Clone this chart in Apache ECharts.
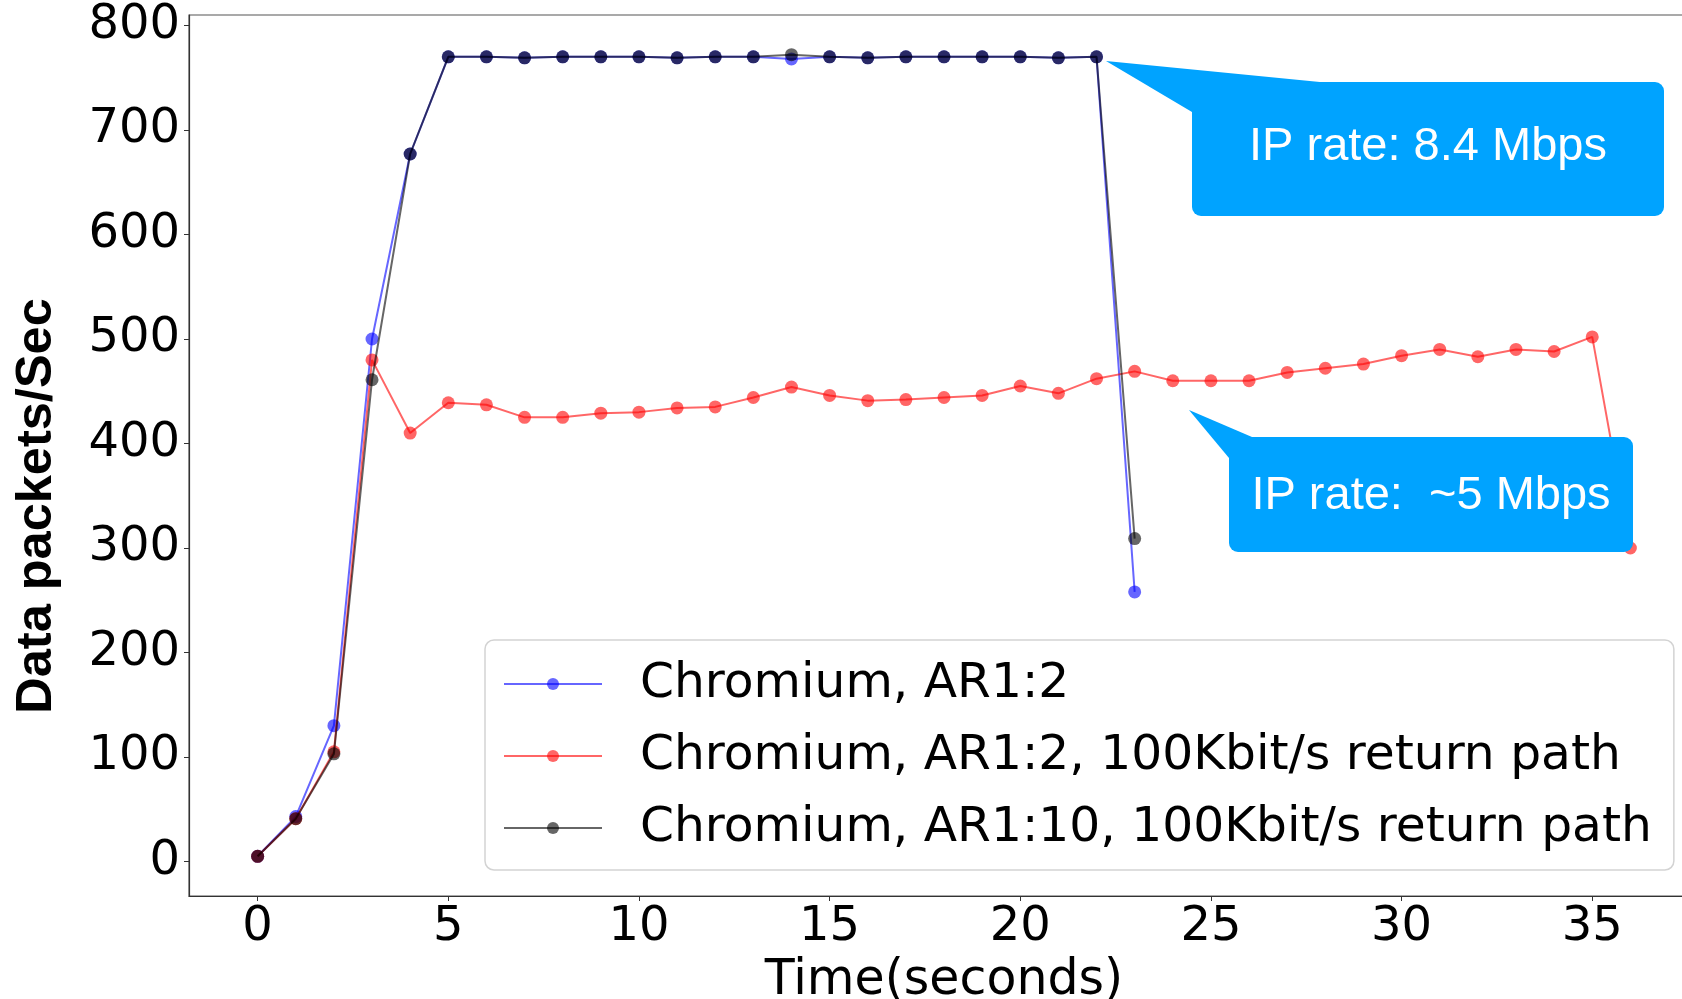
<!DOCTYPE html>
<html>
<head>
<meta charset="utf-8">
<script src="https://cdn.jsdelivr.net/npm/echarts@6/dist/echarts.min.js"></script>
<style>
html,body{margin:0;padding:0;background:#fff;}
#chart{width:1682px;height:999px;}
</style>
</head>
<body>
<div id="chart"></div>
<script>
// ---- data ----
const timeShort = [0,1,2,3,4,5,6,7,8,9,10,11,12,13,14,15,16,17,18,19,20,21,22,23];
const timeLong = [0,1,2,3,4,5,6,7,8,9,10,11,12,13,14,15,16,17,18,19,20,21,22,23,24,25,26,27,28,29,30,31,32,33,34,35,36];
const seriesNames = ['Chromium, AR1:2', 'Chromium, AR1:2, 100Kbit/s return path', 'Chromium, AR1:10, 100Kbit/s return path'];
const blueValues = [5, 43, 130, 500, 677, 770, 770, 769, 770, 770, 770, 769, 770, 770, 768, 770, 769, 770, 770, 770, 770, 769, 770, 258];
const redValues = [5, 41, 105, 480, 410, 439, 437, 425, 425, 429, 430, 434, 435, 444, 454, 446, 441, 442, 444, 446, 455, 448, 462, 469, 460, 460, 460, 468, 472, 476, 484, 490, 483, 490, 488, 502, 300];
const blackValues = [5, 41, 103, 461, 677, 770, 770, 769, 770, 770, 770, 769, 770, 770, 772, 770, 769, 770, 770, 770, 770, 769, 770, 309];
const xTicks = [0,5,10,15,20,25,30,35];
const yTicks = [0,100,200,300,400,500,600,700,800];
const xLabel = 'Time(seconds)';
const yLabel = 'Data packets/Sec';
const note1 = 'IP rate: 8.4 Mbps';
const note2 = 'IP rate:  ~5 Mbps';

function pairs(ts, vs){ return ts.map((t,i)=>[t, vs[i]]); }

const chart = echarts.init(document.getElementById('chart'), null, {renderer:'canvas'});
const tickFont = 'DejaVu Sans';
function mkSeries(name, color, ts, vs, z){
  return {
    name: name, type: 'line', data: pairs(ts, vs), z: z,
    symbol: 'circle', symbolSize: 13,
    lineStyle: {color: color, width: 2, opacity: 0.6},
    itemStyle: {color: color, opacity: 0.6},
    emphasis: {disabled: true},
    animation: false
  };
}
const calloutColor = '#00a3ff';
chart.setOption({
  animation: false,
  backgroundColor: '#ffffff',
  grid: {left: 189, top: 15, width: 1510, height: 881, show: true, borderColor: '#555', borderWidth: 1.2, containLabel: false, outerBoundsMode: 'none'},
  xAxis: {
    type: 'value', min: -1.8, max: 37.8,
    name: xLabel, nameLocation: 'middle', nameGap: 55,
    nameTextStyle: {fontFamily: tickFont, fontSize: 49, color: '#000'},
    axisLine: {show: true, onZero: false, lineStyle: {color: '#333', width: 1.2}},
    axisTick: {show: true, length: 5, lineStyle: {color: '#333'}, customValues: xTicks},
    axisLabel: {fontFamily: tickFont, fontSize: 48, color: '#000', margin: 8, customValues: xTicks},
    splitLine: {show: false}
  },
  yAxis: {
    type: 'value', min: -33, max: 810,
    axisLine: {show: true, onZero: false, lineStyle: {color: '#333', width: 1.2}},
    axisTick: {show: true, length: 5, lineStyle: {color: '#333'}, customValues: yTicks},
    axisLabel: {fontFamily: tickFont, fontSize: 48, color: '#000', margin: 9, padding: [8, 0, 0, 0], customValues: yTicks},
    splitLine: {show: false}
  },
  legend: {
    show: true, orient: 'vertical', left: 485, top: 640,
    data: seriesNames,
    itemWidth: 98, itemHeight: 15, itemGap: 16,
    padding: [16, 22, 14, 18],
    backgroundColor: 'rgba(255,255,255,0.8)', borderColor: '#d3d3d3', borderWidth: 1.5, borderRadius: 9,
    selectedMode: false,
    textStyle: {fontFamily: tickFont, fontSize: 48.7, color: '#000', lineHeight: 56, padding: [0, 0, 0, 33]}
  },
  series: [
    mkSeries(seriesNames[0], '#0000ff', timeShort, blueValues, 2),
    mkSeries(seriesNames[1], '#ff0000', timeLong, redValues, 3),
    mkSeries(seriesNames[2], '#000000', timeShort, blackValues, 4)
  ],
  graphic: [
    {type: 'text', z: 50, x: 37, y: 506, rotation: Math.PI / 2, style: {text: yLabel, fill: '#000', fontFamily: 'Liberation Sans', fontWeight: 'bold', fontSize: 50.5, align: 'center', verticalAlign: 'middle'}},
    {type: 'polygon', z: 100, shape: {points: [[1106,61],[1330,83],[1192,112]]}, style: {fill: calloutColor}},
    {type: 'rect', z: 100, shape: {x: 1192, y: 82, width: 472, height: 134, r: 9}, style: {fill: calloutColor}},
    {type: 'text', z: 101, x: 1428, y: 147, style: {text: note1, fill: '#fff', fontFamily: 'Liberation Sans', fontSize: 47, align: 'center', verticalAlign: 'middle'}},
    {type: 'polygon', z: 100, shape: {points: [[1189,410],[1252,437],[1229,458]]}, style: {fill: calloutColor}},
    {type: 'rect', z: 100, shape: {x: 1229, y: 437, width: 404, height: 115, r: 9}, style: {fill: calloutColor}},
    {type: 'text', z: 101, x: 1431, y: 496, style: {text: note2, fill: '#fff', fontFamily: 'Liberation Sans', fontSize: 47, align: 'center', verticalAlign: 'middle'}}
  ]
});
</script>
</body>
</html>
